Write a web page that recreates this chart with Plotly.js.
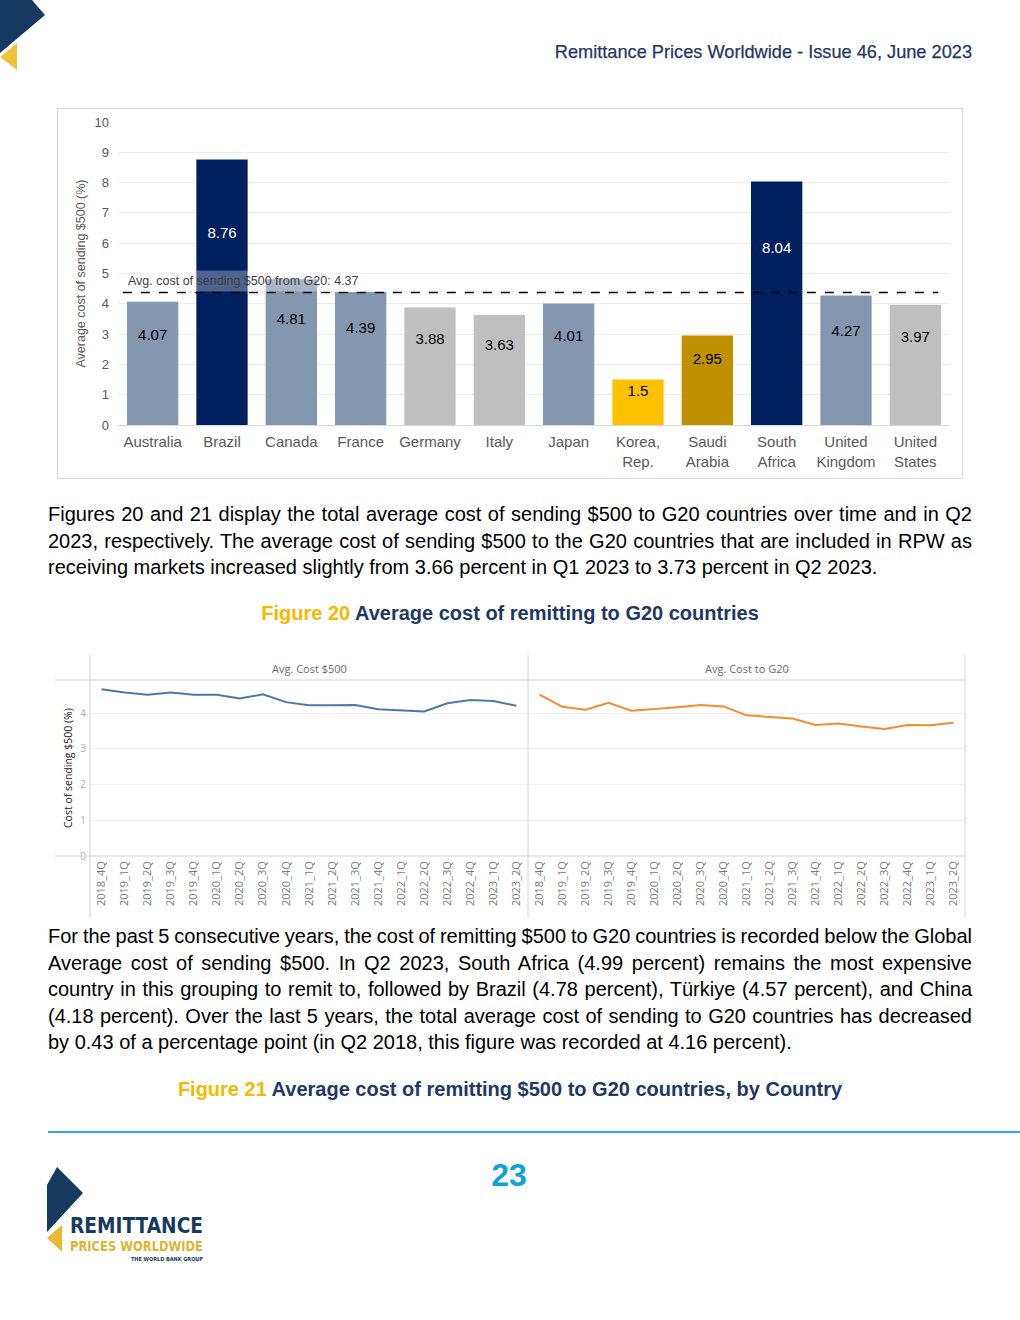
<!DOCTYPE html>
<html>
<head>
<meta charset="utf-8">
<script src="https://cdn.plot.ly/plotly-3.0.1.min.js"></script>
<style>
html,body{margin:0;padding:0;background:#fff;}
#page{position:relative;width:1020px;height:1320px;overflow:hidden;font-family:"Liberation Sans",Arial,sans-serif;}
.abs{position:absolute;}
.txl{position:absolute;left:48px;width:924px;white-space:nowrap;font-size:20px;line-height:26.5px;color:#000;}
.cap{position:absolute;left:0;width:1020px;text-align:center;font-weight:bold;font-size:20px;line-height:26.5px;color:#203864;white-space:nowrap;}
.cap .fig{color:#F7B800;}
#hdr{position:absolute;right:48px;top:39px;font-size:18.2px;line-height:26px;color:#1F3864;white-space:nowrap;-webkit-text-stroke:0.25px #1F3864;}
#pgnum{position:absolute;left:459px;width:100px;top:1155px;line-height:40px;text-align:center;font-size:32px;font-weight:bold;color:#10A2E0;}
#rule{position:absolute;left:48px;top:1131px;width:972px;height:2px;background:#3AA6D2;}
#chart1{position:absolute;left:58px;top:109px;width:904px;height:369px;outline:1px solid #d9d9d9;}
#chart2{position:absolute;left:55px;top:655px;width:912px;height:262px;}
</style>
</head>
<body>
<div id="page">
  <svg class="abs" style="left:0;top:0" width="1020" height="1320">
    <polygon points="0,0 32,0 45,15 0,53" fill="#163A5F"/>
    <polygon points="0,57 17,43 17,70" fill="#F0C23B"/>
    <polygon points="47,1185 57,1167 83,1193 47,1232" fill="#163A5F"/>
    <polygon points="62,1225 62,1252 47,1238" fill="#E9B935"/>
    <text x="70" y="1233" font-family="Liberation Sans Narrow, DejaVu Sans Condensed, sans-serif" font-weight="bold" font-size="22" fill="#163A5F" textLength="133" lengthAdjust="spacingAndGlyphs">REMITTANCE</text>
    <text x="70" y="1251" font-family="Liberation Sans Narrow, DejaVu Sans Condensed, sans-serif" font-weight="bold" font-size="14" fill="#E3B232" textLength="133" lengthAdjust="spacingAndGlyphs">PRICES WORLDWIDE</text>
    <text x="131" y="1261" font-family="Liberation Sans Narrow, DejaVu Sans Condensed, sans-serif" font-weight="bold" font-size="5.5" fill="#163A5F" textLength="72" lengthAdjust="spacingAndGlyphs">THE WORLD BANK GROUP</text>
  </svg>

  <div id="hdr">Remittance Prices Worldwide - Issue 46, June 2023</div>

  <div id="chart1"></div>

  <div class="txl just" style="top:501px"><span>Figures 20 and 21 display the total average cost of sending $500 to G20 countries over time and in Q2</span></div>
  <div class="txl just" style="top:527.5px"><span>2023, respectively. The average cost of sending $500 to the G20 countries that are included in RPW as</span></div>
  <div class="txl" style="top:554px"><span>receiving markets increased slightly from 3.66 percent in Q1 2023 to 3.73 percent in Q2 2023.</span></div>

  <div class="cap" style="top:600px"><span class="fig">Figure 20</span> Average cost of remitting to G20 countries</div>

  <div id="chart2"></div>

  <div class="txl just" style="top:923px"><span>For the past 5 consecutive years, the cost of remitting $500 to G20 countries is recorded below the Global</span></div>
  <div class="txl just" style="top:949.5px"><span>Average cost of sending $500. In Q2 2023, South Africa (4.99 percent) remains the most expensive</span></div>
  <div class="txl just" style="top:976px"><span>country in this grouping to remit to, followed by Brazil (4.78 percent), Türkiye (4.57 percent), and China</span></div>
  <div class="txl just" style="top:1002.5px"><span>(4.18 percent). Over the last 5 years, the total average cost of sending to G20 countries has decreased</span></div>
  <div class="txl" style="top:1029px"><span>by 0.43 of a percentage point (in Q2 2018, this figure was recorded at 4.16 percent).</span></div>

  <div class="cap" style="top:1076px"><span class="fig">Figure 21</span> Average cost of remitting $500 to G20 countries, by Country</div>

  <div id="rule"></div>
  <div id="pgnum">23</div>
</div>

<script>
// ---------- Data: bar chart (cost of sending $500 from G20 countries) ----------
const countries = ['Australia','Brazil','Canada','France','Germany','Italy','Japan','Korea,<br>Rep.','Saudi<br>Arabia','South<br>Africa','United<br>Kingdom','United<br>States'];
const costValues = [4.07, 8.76, 4.81, 4.39, 3.88, 3.63, 4.01, 1.5, 2.95, 8.04, 4.27, 3.97];
const avgG20 = 4.37;
const avgLabel = 'Avg. cost of sending $500 from G20: 4.37';

// ---------- Data: Figure 20 (line panels) ----------
const quarters = ['2018_4Q','2019_1Q','2019_2Q','2019_3Q','2019_4Q','2020_1Q','2020_2Q','2020_3Q','2020_4Q','2021_1Q','2021_2Q','2021_3Q','2021_4Q','2022_1Q','2022_2Q','2022_3Q','2022_4Q','2023_1Q','2023_2Q'];
const avgCost500 = [4.67, 4.58, 4.52, 4.58, 4.52, 4.52, 4.41, 4.53, 4.31, 4.22, 4.22, 4.23, 4.11, 4.09, 4.05, 4.28, 4.37, 4.34, 4.21];
const avgCostToG20 = [4.52, 4.18, 4.10, 4.29, 4.07, 4.11, 4.17, 4.23, 4.19, 3.94, 3.90, 3.85, 3.67, 3.71, 3.63, 3.56, 3.67, 3.66, 3.73];
const yTicks2 = [0, 1, 2, 3, 4];

// ---------- Styles ----------
const NAVY = '#002060', STEEL = '#8497B0', GREY = '#BFBFBF', YELLOW = '#FFC000', GOLD = '#BF9000';
const barColors = [STEEL, NAVY, STEEL, STEEL, GREY, GREY, STEEL, YELLOW, GOLD, NAVY, STEEL, GREY];
const labelColors = barColors.map(c => c === NAVY ? '#FFFFFF' : '#000000');
const F1 = '"Liberation Sans", Arial, sans-serif';
const F2 = '"Open Sans", "Noto Sans", sans-serif';

// ---------- Chart 1 ----------
Plotly.newPlot('chart1', [
  {
    type: 'bar', x: countries, y: costValues,
    marker: {color: barColors, line: {width: 0}},
    hoverinfo: 'skip', showlegend: false
  },
  {
    type: 'scatter', mode: 'text', x: countries,
    y: costValues.map(v => v * 0.72),
    text: costValues.map(v => String(v)),
    textposition: 'middle center',
    textfont: {family: F1, size: 15, color: labelColors},
    hoverinfo: 'skip', showlegend: false
  }
], {
  width: 904, height: 369,
  margin: {l: 60, r: 12, t: 13, b: 53},
  paper_bgcolor: '#fff', plot_bgcolor: '#fff',
  bargap: 0.26,
  font: {family: F1, color: '#595959'},
  xaxis: {
    type: 'category', range: [-0.5, 11.5],
    showgrid: false, zeroline: false, ticks: '',
    showline: true, linecolor: '#d9d9d9', linewidth: 1,
    tickangle: 0, automargin: false,
    tickfont: {family: F1, size: 15, color: '#595959'},
    ticklabelstandoff: 3
  },
  yaxis: {
    range: [0, 10], dtick: 1, tick0: 0,
    showgrid: true, gridcolor: '#ececec', gridwidth: 1,
    zeroline: false, showline: false, ticks: '',
    tickfont: {family: F1, size: 13, color: '#595959'},
    ticklabelstandoff: 8,
    title: {text: 'Average cost of sending $500 (%)', font: {family: F1, size: 12.5, color: '#595959'}, standoff: 6}
  },
  shapes: [{
    type: 'line', xref: 'x', yref: 'y',
    x0: -0.43, x1: 11.33, y0: avgG20, y1: avgG20,
    line: {color: '#000', width: 1.5, dash: 'dash'}, layer: 'above'
  }],
  annotations: [{
    xref: 'x', yref: 'y', x: -0.5, y: avgG20,
    xanchor: 'left', yanchor: 'bottom', xshift: 6, yshift: 1,
    text: avgLabel, showarrow: false,
    font: {family: F1, size: 12.5, color: '#404040'},
    bgcolor: 'rgba(255,255,255,0.3)', borderpad: 3
  }]
}, {displayModeBar: false, staticPlot: true});

// ---------- Chart 2 ----------
const split = 438 / 875;
const px2 = x => (x - 35) / 875;      // div px -> paper x
const py2 = y => (201 - y) / 176;     // div px -> paper y
const frame = {color: '#d4d4d4', width: 1};
const xax = {
  type: 'category', categoryarray: quarters, range: [-0.5, 18.5],
  showgrid: false, zeroline: false, showline: false, ticks: '',
  tickangle: -90, tickfont: {family: F2, size: 11, color: '#7a7a7a'},
  ticklabelstandoff: 2, anchor: 'y', automargin: false
};
Plotly.newPlot('chart2', [
  {type: 'scatter', mode: 'lines', x: quarters, y: avgCost500, xaxis: 'x', yaxis: 'y',
   line: {color: '#4E79A7', width: 2}, hoverinfo: 'skip', showlegend: false},
  {type: 'scatter', mode: 'lines', x: quarters, y: avgCostToG20, xaxis: 'x2', yaxis: 'y',
   line: {color: '#F28E2B', width: 2}, hoverinfo: 'skip', showlegend: false}
], {
  width: 912, height: 262,
  margin: {l: 35, r: 2, t: 25, b: 61},
  paper_bgcolor: '#fff', plot_bgcolor: '#fff',
  xaxis: Object.assign({}, xax, {domain: [0, split]}),
  xaxis2: Object.assign({}, xax, {domain: [split, 1]}),
  yaxis: {
    range: [0, 4.93], tickvals: yTicks2,
    showgrid: true, gridcolor: '#f0f0f0', zeroline: false, showline: false, ticks: '',
    tickfont: {family: F2, size: 10, color: '#b0b0b0'}, ticklabelstandoff: 3
  },
  shapes: [
    {type: 'line', xref: 'paper', yref: 'paper', x0: px2(0), x1: 1, y0: 1, y1: 1, line: frame},
    {type: 'line', xref: 'paper', yref: 'paper', x0: px2(0), x1: 1, y0: 0, y1: 0, line: frame},
    {type: 'line', xref: 'paper', yref: 'paper', x0: 0, x1: 0, y0: py2(262), y1: py2(0), line: frame},
    {type: 'line', xref: 'paper', yref: 'paper', x0: split, x1: split, y0: py2(262), y1: py2(0), line: frame},
    {type: 'line', xref: 'paper', yref: 'paper', x0: 1, x1: 1, y0: py2(262), y1: py2(0), line: frame}
  ],
  annotations: [
    {xref: 'paper', yref: 'paper', x: split / 2, y: 1, yshift: 12, yanchor: 'middle', xanchor: 'center',
     text: 'Avg. Cost $500', showarrow: false, font: {family: F2, size: 11, color: '#6a6a6a'}},
    {xref: 'paper', yref: 'paper', x: (split + 1) / 2, y: 1, yshift: 12, yanchor: 'middle', xanchor: 'center',
     text: 'Avg. Cost to G20', showarrow: false, font: {family: F2, size: 11, color: '#6a6a6a'}},
    {xref: 'paper', yref: 'paper', x: 0, y: 0.5, xshift: -22, xanchor: 'center', yanchor: 'middle',
     textangle: -90, text: 'Cost of sending $500 (%)', showarrow: false,
     font: {family: F2, size: 10.5, color: '#222'}}
  ]
}, {displayModeBar: false, staticPlot: true});

// ---------- Justify text lines ----------
document.querySelectorAll('.txl.just').forEach(el => {
  const span = el.querySelector('span');
  const target = 924;
  const txt = span.textContent;
  const nSp = (txt.match(/ /g) || []).length;
  let w = span.getBoundingClientRect().width;
  if (w > target) {
    let ws = Math.max((target - w) / nSp, -2.5);
    span.style.wordSpacing = ws + 'px';
    w = span.getBoundingClientRect().width;
    if (w > target) {
      span.style.letterSpacing = ((target - w) / txt.length) + 'px';
      w = span.getBoundingClientRect().width;
      span.style.wordSpacing = (ws + (target - w) / nSp) + 'px';
    }
  } else {
    span.style.wordSpacing = ((target - w) / nSp) + 'px';
  }
});
</script>
</body>
</html>
